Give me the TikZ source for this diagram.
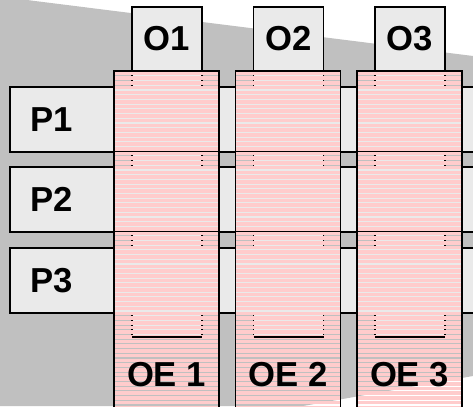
\documentclass[tikz,border=0pt]{standalone}
\usepackage{fontspec}
\setmainfont{Liberation Sans}

\tikzset{
  lbl/.style={font=\fontsize{26}{26}\selectfont\bfseries},
  pbox/.style={draw,line width=1.1pt,fill=boxgray},
  obox/.style={shape=rectangle,draw,line width=1.1pt,fill=boxgray,minimum width=52.5pt,minimum height=48pt,lbl},
  stripe/.style={color=oepink,line width=2.7pt},
  colframe/.style={line width=1.1pt}
}

\begin{document}
\begin{tikzpicture}[x=0.75pt,y=-0.75pt]
\definecolor{bggray}{RGB}{192,192,192}
\definecolor{boxgray}{RGB}{234,234,234}
\definecolor{oepink}{RGB}{255,204,204}
\useasboundingbox (0,0) rectangle (473,406);
\clip (0,0) rectangle (473,406);
\fill[white] (0,0) rectangle (473,406);
\fill[bggray] (0,0) -- (27,0) -- (473,56) -- (473,376) -- (303,406) -- (0,406) -- cycle;

% light boxes behind the columns
\foreach \x in {132,253.5,375}
  \draw[pbox] (\x,71) rectangle (\x+70,337);

% rows
\foreach \i/\yt in {1/87,2/167,3/248} {
  \draw[pbox] (10,\yt) rectangle (520,\yt+65);
  \node[lbl] (p\i) at (52,\yt+32.5) {P\i};
}

% heads
\node[obox] (o1) at (167,39) {O1};
\node[obox] (o2) at (288.5,39) {O2};
\node[obox] (o3) at (410,39) {O3};

% striped columns
\foreach \i/\xa in {1/114,2/235.5,3/357} {
  \begin{scope}
    \clip (\xa,71) rectangle (\xa+105,410);
    \foreach \s in {0,...,71}
      \draw[stripe] (\xa,{73.6+4.7*\s}) -- (\xa+105,{73.6+4.7*\s});
  \end{scope}
  \draw[line width=0.9pt] (\xa+18,337) -- (\xa+88,337);
  \draw[colframe] (\xa,420) -- (\xa,71) -- (\xa+105,71) -- (\xa+105,420);
  \node[lbl] (oe\i) at (\xa+52.5,375) {OE \i};
}
\end{tikzpicture}
\end{document}
